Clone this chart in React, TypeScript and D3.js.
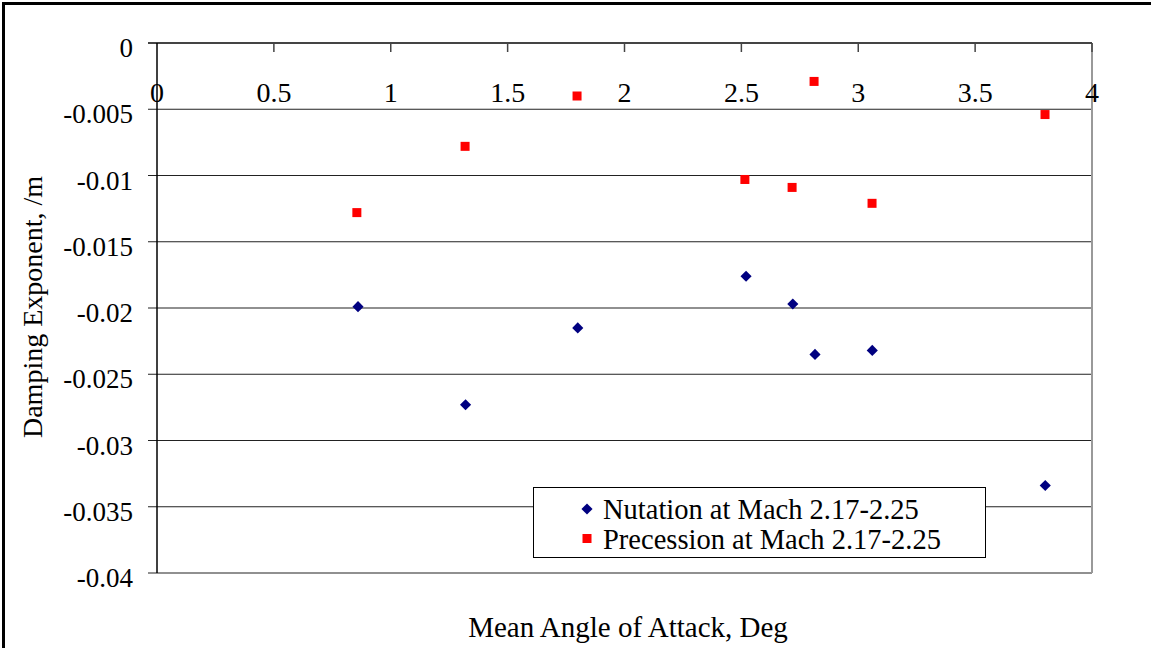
import React from 'react';
import * as d3 from 'd3';
import { useEffect, useRef } from 'react';

const nutationAngle = [0.86, 1.32, 1.80, 2.52, 2.72, 2.815, 3.06, 3.80];
const nutationDamping = [-0.0199, -0.0273, -0.0215, -0.0176, -0.0197, -0.0235, -0.0232, -0.0334];
const precessionAngle = [0.855, 1.318, 1.797, 2.515, 2.717, 2.811, 3.059, 3.799];
const precessionDamping = [-0.0128, -0.0078, -0.0040, -0.0103, -0.0109, -0.0029, -0.0121, -0.0054];

const xTicks = [0, 0.5, 1, 1.5, 2, 2.5, 3, 3.5, 4];
const xTickLabels = ['0', '0.5', '1', '1.5', '2', '2.5', '3', '3.5', '4'];
const yTicks = [0, -0.005, -0.01, -0.015, -0.02, -0.025, -0.03, -0.035, -0.04];
const yTickLabels = ['0', '-0.005', '-0.01', '-0.015', '-0.02', '-0.025', '-0.03', '-0.035', '-0.04'];

const seriesNames = ['Nutation at Mach 2.17-2.25', 'Precession at Mach 2.17-2.25'];

const width = 1151;
const height = 648;
const FONT = '"Liberation Serif", "Times New Roman", serif';

const App = () => {
    const chartRef = useRef<SVGSVGElement | null>(null);

    useEffect(() => {
        const svg = d3.select(chartRef.current);
        svg.selectAll('*').remove();

        const xScale = d3.scaleLinear().domain([0, 4]).range([157, 1092]);
        const yScale = d3.scaleLinear().domain([-0.04, 0]).range([573, 43]);

        svg.append('rect')
            .attr('width', width).attr('height', height).attr('fill', 'white');

        // outer chart border (runs off the right/bottom)
        svg.append('rect')
            .attr('x', 3.5).attr('y', 3.5)
            .attr('width', width + 20).attr('height', height + 20)
            .attr('fill', 'none').attr('stroke', '#000').attr('stroke-width', 3);

        // horizontal gridlines + y ticks
        svg.append('g')
            .selectAll('line')
            .data(yTicks.slice(1))
            .enter()
            .append('line')
            .attr('x1', 148).attr('x2', xScale(4))
            .attr('y1', d => yScale(d)).attr('y2', d => yScale(d))
            .attr('stroke', '#222').attr('stroke-width', 1.2);

        // right plot edge
        svg.append('line')
            .attr('x1', xScale(4)).attr('x2', xScale(4))
            .attr('y1', yScale(0)).attr('y2', yScale(-0.04))
            .attr('stroke', '#999').attr('stroke-width', 2);

        // x axis sitting at y = 0
        svg.append('line')
            .attr('x1', 148).attr('x2', xScale(4))
            .attr('y1', yScale(0)).attr('y2', yScale(0))
            .attr('stroke', '#444').attr('stroke-width', 2);

        svg.append('g')
            .selectAll('line')
            .data(xTicks.slice(1))
            .enter()
            .append('line')
            .attr('x1', d => xScale(d)).attr('x2', d => xScale(d))
            .attr('y1', yScale(0)).attr('y2', yScale(0) + 9)
            .attr('stroke', '#444').attr('stroke-width', 1.5);

        // y axis line
        svg.append('line')
            .attr('x1', xScale(0)).attr('x2', xScale(0))
            .attr('y1', yScale(0)).attr('y2', yScale(-0.04))
            .attr('stroke', '#000').attr('stroke-width', 1.5);

        svg.append('g')
            .selectAll('text')
            .data(yTicks)
            .enter()
            .append('text')
            .attr('x', 133)
            .attr('y', d => yScale(d) + 14)
            .attr('text-anchor', 'end')
            .style('font-family', FONT)
            .style('font-size', '27px')
            .text((d, i) => yTickLabels[i]);

        svg.append('g')
            .selectAll('text')
            .data(xTicks)
            .enter()
            .append('text')
            .attr('x', d => xScale(d))
            .attr('y', 102)
            .attr('text-anchor', 'middle')
            .style('font-family', FONT)
            .style('font-size', '28px')
            .text((d, i) => xTickLabels[i]);

        // precession squares
        svg.append('g')
            .selectAll('rect')
            .data(precessionAngle)
            .enter()
            .append('rect')
            .attr('x', d => xScale(d) - 4.5)
            .attr('y', (d, i) => yScale(precessionDamping[i]) - 4.5)
            .attr('width', 9).attr('height', 9)
            .attr('fill', '#ff0000');

        // nutation diamonds
        const diamond = d3.symbol().type(d3.symbolSquare).size(62);
        svg.append('g')
            .selectAll('path')
            .data(nutationAngle)
            .enter()
            .append('path')
            .attr('d', diamond())
            .attr('transform', (d, i) => `translate(${xScale(d)},${yScale(nutationDamping[i])}) rotate(45)`)
            .attr('fill', '#000080');

        // legend
        const legend = svg.append('g');
        legend.append('rect')
            .attr('x', 533.5).attr('y', 487.5)
            .attr('width', 452).attr('height', 70)
            .attr('fill', 'white').attr('stroke', '#000').attr('stroke-width', 1);
        legend.append('path')
            .attr('d', diamond())
            .attr('transform', 'translate(587,509) rotate(45)')
            .attr('fill', '#000080');
        legend.append('rect')
            .attr('x', 582.5).attr('y', 534)
            .attr('width', 9).attr('height', 9)
            .attr('fill', '#ff0000');
        legend.selectAll('text')
            .data(seriesNames)
            .enter()
            .append('text')
            .attr('x', 603)
            .attr('y', (d, i) => 519 + i * 30)
            .style('font-family', FONT)
            .style('font-size', '28.5px')
            .text(d => d);

        // axis titles
        svg.append('text')
            .attr('x', 628).attr('y', 637)
            .attr('text-anchor', 'middle')
            .style('font-family', FONT)
            .style('font-size', '29px')
            .text('Mean Angle of Attack, Deg');

        svg.append('text')
            .attr('transform', 'translate(42,307) rotate(-90)')
            .attr('text-anchor', 'middle')
            .style('font-family', FONT)
            .style('font-size', '28px')
            .text('Damping Exponent, /m');
    }, []);

    return (
        <div style={{ position: 'fixed', left: 0, top: 0 }}>
            <svg ref={chartRef} width={width} height={height} style={{ display: 'block' }}></svg>
        </div>
    );
};

export default App;
